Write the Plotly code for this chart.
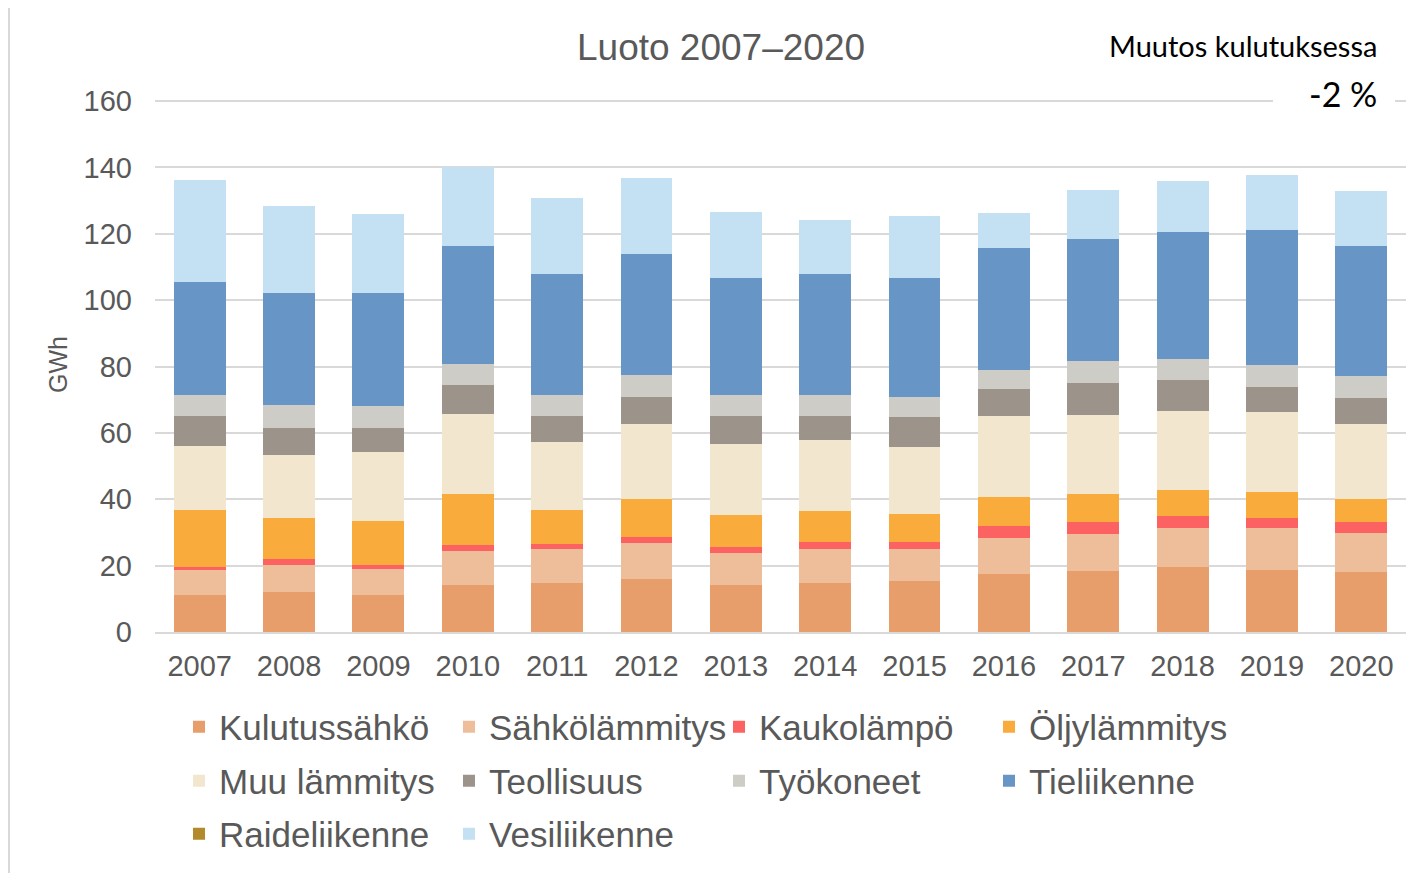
import plotly.graph_objects as go

years = ["2007", "2008", "2009", "2010", "2011", "2012", "2013",
         "2014", "2015", "2016", "2017", "2018", "2019", "2020"]

kulutussahko   = [11.3, 12.1, 11.3, 14.1, 14.9, 16.1, 14.1, 14.9, 15.3, 17.6, 18.3, 19.5, 18.7, 18.0]
sahkolammitys  = [7.5, 8.2, 7.8, 10.4, 10.0, 10.7, 9.6, 10.0, 9.6, 10.7, 11.2, 11.9, 12.7, 11.9]
kaukolampo     = [0.8, 1.6, 1.2, 1.6, 1.6, 1.9, 2.0, 2.3, 2.3, 3.5, 3.5, 3.5, 3.1, 3.1]
oljylammitys   = [17.2, 12.6, 13.1, 15.4, 10.3, 11.3, 9.6, 9.2, 8.5, 9.0, 8.5, 7.8, 7.8, 7.0]
muu_lammitys   = [19.3, 18.9, 20.8, 24.3, 20.4, 22.7, 21.5, 21.6, 20.0, 24.3, 23.9, 23.9, 23.9, 22.7]
teollisuus     = [9.0, 8.1, 7.3, 8.5, 7.9, 8.1, 8.3, 7.1, 9.0, 8.0, 9.7, 9.2, 7.7, 7.7]
tyokoneet      = [6.4, 6.9, 6.6, 6.5, 6.4, 6.5, 6.4, 6.4, 6.1, 5.8, 6.5, 6.5, 6.5, 6.6]
tieliikenne    = [34.0, 33.7, 34.0, 35.6, 36.3, 36.7, 35.2, 36.3, 35.9, 36.7, 36.8, 38.3, 40.6, 39.4]
raideliikenne  = [0, 0, 0, 0, 0, 0, 0, 0, 0, 0, 0, 0, 0, 0]
vesiliikenne   = [30.8, 26.2, 23.9, 23.8, 23.1, 22.7, 20.0, 16.2, 18.5, 10.8, 14.9, 15.4, 16.6, 16.5]

series_names = ["Kulutussähkö", "Sähkölämmitys", "Kaukolämpö", "Öljylämmitys",
                "Muu lämmitys", "Teollisuus", "Työkoneet", "Tieliikenne",
                "Raideliikenne", "Vesiliikenne"]
series_values = [kulutussahko, sahkolammitys, kaukolampo, oljylammitys,
                 muu_lammitys, teollisuus, tyokoneet, tieliikenne,
                 raideliikenne, vesiliikenne]
series_colors = ["#E79E6A", "#EEBE9A", "#FC6262", "#F9AC3B", "#F2E7CE",
                 "#9C948A", "#CDCCC6", "#6796C6", "#B38A2B", "#C4E1F4"]
legend_rows = ["legend", "legend", "legend", "legend",
               "legend2", "legend2", "legend2", "legend2",
               "legend3", "legend3"]

y_ticks = [0, 20, 40, 60, 80, 100, 120, 140, 160]

title_text = "Luoto 2007–2020"
change_label = "Muutos kulutuksessa"
change_value = "-2 %"
y_title = "GWh"

FONT = "Liberation Sans, Arial, sans-serif"
GRAY = "#595959"

fig = go.Figure()
for name, vals, col, lg in zip(series_names, series_values, series_colors, legend_rows):
    fig.add_trace(go.Bar(x=years, y=vals, name=name, marker_color=col,
                         marker_line_width=0, legend=lg))

# page offset (browser body margin)
OFF = 8
W, H = 1419 - OFF, 873 - OFF
# screen-pixel plot area
SL, SR, ST, SB = 155, 1406, 98, 632
PPU = (632 - 101) / 160.0
YMAX = (SB - ST) / PPU
L, T = SL - OFF, ST - OFF
R = W - (SR - OFF)
B = H - (SB - OFF)
pw, ph = SR - SL, SB - ST

def px(xs):
    return (xs - SL) / pw

def py(ys):
    return (SB - ys) / ph

legend_common = dict(orientation="h", xanchor="left", yanchor="middle",
                     entrywidth=225, entrywidthmode="pixels", traceorder="normal",
                     font=dict(family=FONT, size=35, color=GRAY),
                     bgcolor="rgba(0,0,0,0)", borderwidth=0)

fig.update_layout(
    width=W, height=H,
    margin=dict(l=L, r=R, t=T, b=B, autoexpand=False),
    paper_bgcolor="white", plot_bgcolor="white",
    barmode="stack", bargap=0.42,
    font=dict(family=FONT, color=GRAY),
    legend=dict(x=px(179), y=py(727), **legend_common),
    legend2=dict(x=px(179), y=py(781), **legend_common),
    legend3=dict(x=px(179), y=py(834), **legend_common),
    xaxis=dict(showgrid=False, showline=True, linecolor="#D9D9D9", linewidth=2,
               ticks="", tickfont=dict(family=FONT, size=29, color=GRAY),
               ticklabelstandoff=7, fixedrange=True),
    yaxis=dict(range=[0, YMAX], tickvals=y_ticks,
               showgrid=True, gridcolor="#D9D9D9", gridwidth=1.5,
               zeroline=False, showline=False, ticks="",
               tickfont=dict(family=FONT, size=29, color=GRAY),
               ticklabelstandoff=22, fixedrange=True),
    showlegend=True,
)

fig.add_shape(type="rect", xref="paper", yref="paper",
              x0=px(1273), x1=px(1395), y0=py(112), y1=py(78),
              fillcolor="white", line_width=0, layer="above")
fig.add_shape(type="rect", xref="paper", yref="paper",
              x0=px(9), x1=px(1440), y0=py(900), y1=py(5),
              fillcolor="rgba(0,0,0,0)", line=dict(color="#D9D9D9", width=2),
              layer="below")

fig.add_annotation(text=title_text, xref="paper", yref="paper",
                   x=px(721), y=py(47), xanchor="center", yanchor="middle",
                   showarrow=False, font=dict(family=FONT, size=37, color=GRAY))
fig.add_annotation(text=change_label, xref="paper", yref="paper",
                   x=px(1379), y=py(45), xanchor="right", yanchor="middle",
                   showarrow=False, font=dict(family="Lato, sans-serif", size=29, color="black"))
fig.add_annotation(text=change_value, xref="paper", yref="paper",
                   x=px(1379), y=py(93), xanchor="right", yanchor="middle",
                   showarrow=False, font=dict(family="Lato, sans-serif", size=34, color="black"))
fig.add_annotation(text=y_title, xref="paper", yref="paper",
                   x=px(58), y=py(365), xanchor="center", yanchor="middle",
                   textangle=-90, showarrow=False,
                   font=dict(family=FONT, size=25, color=GRAY))

fig.write_html("out.html")
